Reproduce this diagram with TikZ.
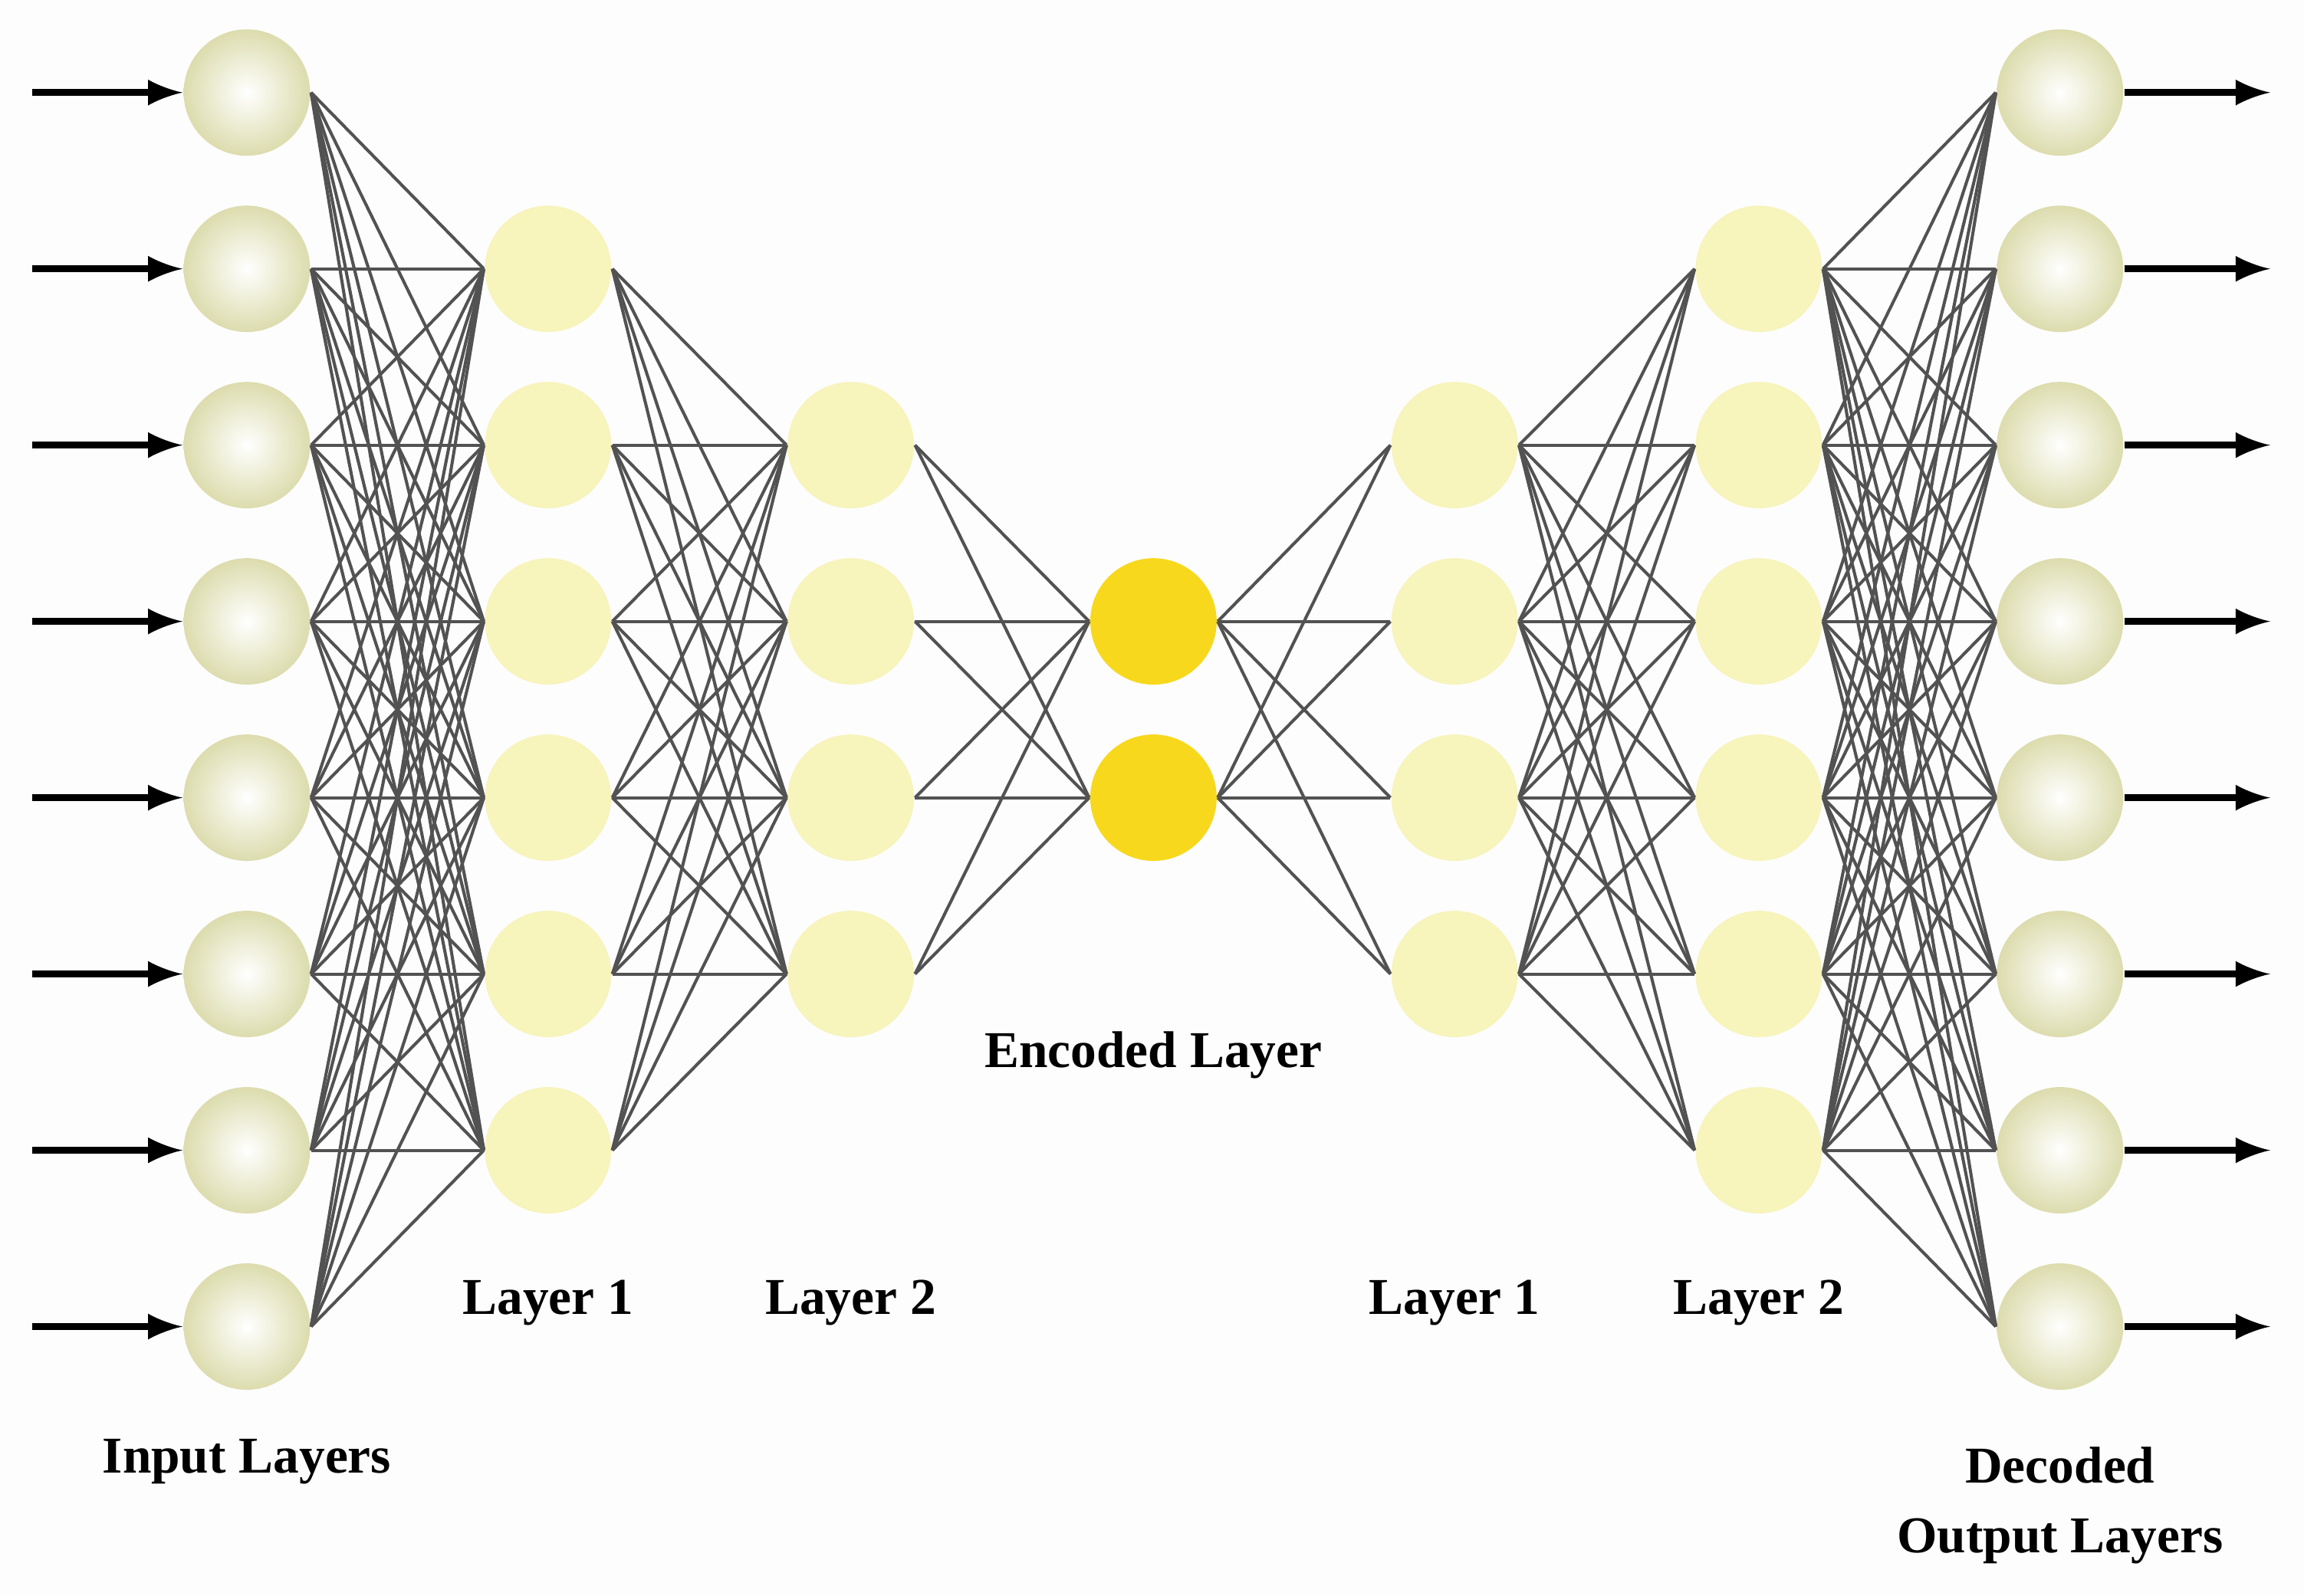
\documentclass[tikz,border=0pt]{standalone}
\usepackage{fontspec}
\setmainfont{Liberation Serif}
\definecolor{ioedge}{HTML}{DCDCAE}
\definecolor{hidc}{HTML}{F7F4BC}
\definecolor{encc}{HTML}{F8D81C}
\begin{document}
\begin{tikzpicture}[x=0.01cm,y=-0.01cm,
  io/.style={circle,minimum size=0.86cm,inner sep=0,draw=none,inner color=white,outer color=ioedge},
  hid/.style={circle,minimum size=0.86cm,inner sep=0,draw=none,fill=hidc},
  enc/.style={circle,minimum size=0.86cm,inner sep=0,draw=none,fill=encc},
  edge/.style={draw=black!68,line width=0.6pt},
  arr/.style={-latex,line width=1.3pt},
  lab/.style={font=\fontsize{10}{13.5}\selectfont\bfseries,align=center}]
\useasboundingbox (0,0) rectangle (1568,1086);
\fill[white!97!black!30] (0,0) rectangle (1568,1086);
\foreach \i in {1,...,8}{
  \node[io] (in\i) at (168,{63+120*(\i-1)}) {};
  \node[io] (out\i) at (1402,{63+120*(\i-1)}) {};
  \coordinate (s\i) at (22,{63+120*(\i-1)});
  \coordinate (t\i) at (1545,{63+120*(\i-1)});
}
\foreach \i in {1,...,6}{
  \node[hid] (a\i) at (373,{183+120*(\i-1)}) {};
  \node[hid] (d\i) at (1197,{183+120*(\i-1)}) {};
}
\foreach \i in {1,...,4}{
  \node[hid] (b\i) at (579,{303+120*(\i-1)}) {};
  \node[hid] (c\i) at (990,{303+120*(\i-1)}) {};
}
\node[enc] (e1) at (785,423) {};
\node[enc] (e2) at (785,543) {};
\foreach \i in {1,...,8}\foreach \j in {1,...,6}{
  \draw[edge] (in\i.east) -- (a\j.west);
  \draw[edge] (d\j.east) -- (out\i.west);}
\foreach \i in {1,...,6}\foreach \j in {1,...,4}{
  \draw[edge] (a\i.east) -- (b\j.west);
  \draw[edge] (c\j.east) -- (d\i.west);}
\foreach \i in {1,...,4}\foreach \j in {1,2}{
  \draw[edge] (b\i.east) -- (e\j.west);
  \draw[edge] (e\j.east) -- (c\i.west);}
\foreach \i in {1,...,8}{
  \draw[arr] (s\i) -- (in\i.west);
  \draw[arr] (out\i.east) -- (t\i);}
\node[lab] (l0) at (168,995) {Input Layers};
\node[lab] (l1) at (373,887) {Layer 1};
\node[lab] (l2) at (579,887) {Layer 2};
\node[lab] (l3) at (785,718) {Encoded Layer};
\node[lab] (l4) at (990,887) {Layer 1};
\node[lab] (l5) at (1197,887) {Layer 2};
\node[lab] (l6) at (1402,1025) {Decoded\\Output Layers};
\end{tikzpicture}
\end{document}
